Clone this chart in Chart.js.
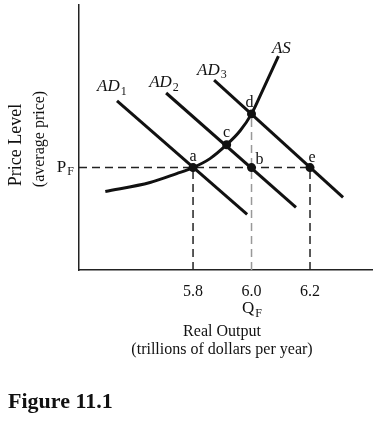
<!DOCTYPE html>
<html>
<head>
<meta charset="utf-8">
<script src="https://cdn.jsdelivr.net/npm/chart.js@4.4.1/dist/chart.umd.min.js"></script>
<style>
  html, body { margin: 0; padding: 0; background: #fff; }
  #wrap { width: 381px; height: 433px; position: relative; }
</style>
</head>
<body>
<div id="wrap"><canvas id="chart"></canvas></div>
<script>
// values (price level in arbitrary units, 0 at the x axis)
const xTicks = [5.8, 6.0, 6.2];
const xMin = 5.410;
const xMax = 6.412;
const PF = 103;
const QF = 6.0;

const asX = [5.50, 5.653, 5.744, 5.80, 5.858, 5.915, 5.961, 6.00, 6.040, 6.092];
const asY = [79, 88, 97, 103, 112, 126, 140, 157, 182, 215];

const ad1X = [5.540, 5.985];
const ad1Y = [170, 56];
const ad2X = [5.708, 6.152];
const ad2Y = [178, 63];
const ad3X = [5.872, 6.313];
const ad3Y = [191, 73];

const ptNames = ['a', 'b', 'c', 'd', 'e'];
const ptX = [5.8, 6.0, 5.915, 6.0, 6.2];
const ptY = [103, 103, 126, 157, 103];

const serif = '"Liberation Serif", "DejaVu Serif", serif';
const ink = '#111';

const toPts = (xs, ys) => xs.map((x, i) => ({ x: x, y: ys[i] }));

function subText(ctx, main, sub, x, y, size, italic, align) {
  const f1 = (italic ? 'italic ' : '') + size + 'px ' + serif;
  const f2 = Math.round(size * 0.68) + 'px ' + serif;
  ctx.font = f1;
  const w1 = ctx.measureText(main).width;
  ctx.font = f2;
  const w2 = ctx.measureText(sub).width;
  let left = x;
  if (align === 'center') left = x - (w1 + w2) / 2;
  if (align === 'right') left = x - (w1 + w2);
  ctx.textAlign = 'left';
  ctx.textBaseline = 'middle';
  ctx.font = f1;
  ctx.fillText(main, left, y);
  ctx.font = f2;
  ctx.fillText(sub, left + w1 + 1, y + size * 0.28);
}

const textPlugin = {
  id: 'figText',
  afterDraw(chart) {
    const ctx = chart.ctx;
    const xs = chart.scales.x;
    const ys = chart.scales.y;
    ctx.save();
    ctx.fillStyle = ink;

    // y axis title
    ctx.save();
    ctx.translate(16, 145);
    ctx.rotate(-Math.PI / 2);
    ctx.textAlign = 'center';
    ctx.textBaseline = 'middle';
    ctx.font = '18px ' + serif;
    ctx.fillText('Price Level', 0, 0);
    ctx.restore();
    ctx.save();
    ctx.translate(40, 139);
    ctx.rotate(-Math.PI / 2);
    ctx.textAlign = 'center';
    ctx.textBaseline = 'middle';
    ctx.font = '16px ' + serif;
    ctx.fillText('(average price)', 0, 0);
    ctx.restore();

    subText(ctx, 'P', 'F', 73, ys.getPixelForValue(PF), 17, false, 'right');
    subText(ctx, 'Q', 'F', xs.getPixelForValue(QF), 309, 17, false, 'center');

    ctx.textAlign = 'center';
    ctx.textBaseline = 'middle';
    ctx.font = '16px ' + serif;
    ctx.fillText('Real Output', 222, 332);
    ctx.fillText('(trillions of dollars per year)', 222, 350);

    // curve labels
    subText(ctx, 'AD', '1', xs.getPixelForValue(ad1X[0]) - 20, ys.getPixelForValue(ad1Y[0]) - 14, 17, true, 'left');
    subText(ctx, 'AD', '2', xs.getPixelForValue(ad2X[0]) - 17, ys.getPixelForValue(ad2Y[0]) - 10, 17, true, 'left');
    subText(ctx, 'AD', '3', xs.getPixelForValue(ad3X[0]) - 17, ys.getPixelForValue(ad3Y[0]) - 10, 17, true, 'left');
    ctx.font = 'italic 17px ' + serif;
    ctx.textAlign = 'center';
    ctx.fillText('AS', xs.getPixelForValue(asX[asX.length - 1]) + 3, ys.getPixelForValue(asY[asY.length - 1]) - 8);

    // point labels
    const offs = [[0, -11], [8, -8], [0, -12], [-2, -11], [2, -10]];
    ctx.font = '16px ' + serif;
    ptNames.forEach((n, i) => {
      ctx.fillText(n, xs.getPixelForValue(ptX[i]) + offs[i][0], ys.getPixelForValue(ptY[i]) + offs[i][1]);
    });

    ctx.textAlign = 'left';
    ctx.font = 'bold 22px ' + serif;
    ctx.fillText('Figure 11.1', 8, 402);
    ctx.restore();
  }
};

const dash = [8, 5];

new Chart(document.getElementById('chart'), {
  type: 'scatter',
  data: {
    datasets: [
      { data: toPts(ptX, ptY), pointRadius: 4.5, pointBackgroundColor: ink, pointBorderWidth: 0, showLine: false, order: 0 },
      { data: toPts(asX, asY), showLine: true, borderColor: ink, borderWidth: 3, pointRadius: 0, cubicInterpolationMode: 'monotone', order: 1 },
      { data: toPts(ad1X, ad1Y), showLine: true, borderColor: ink, borderWidth: 3, pointRadius: 0, order: 1 },
      { data: toPts(ad2X, ad2Y), showLine: true, borderColor: ink, borderWidth: 3, pointRadius: 0, order: 1 },
      { data: toPts(ad3X, ad3Y), showLine: true, borderColor: ink, borderWidth: 3, pointRadius: 0, order: 1 },
      { data: [{ x: xMin, y: PF }, { x: ptX[4], y: PF }], showLine: true, borderColor: '#222', borderWidth: 1.5, borderDash: dash, pointRadius: 0, order: 2 },
      { data: [{ x: ptX[0], y: 0 }, { x: ptX[0], y: PF }], showLine: true, borderColor: '#222', borderWidth: 1.5, borderDash: dash, pointRadius: 0, order: 2 },
      { data: [{ x: QF, y: 0 }, { x: QF, y: ptY[3] }], showLine: true, borderColor: '#999', borderWidth: 1.5, borderDash: dash, pointRadius: 0, order: 2 },
      { data: [{ x: ptX[4], y: 0 }, { x: ptX[4], y: PF }], showLine: true, borderColor: '#222', borderWidth: 1.5, borderDash: dash, pointRadius: 0, order: 2 }
    ]
  },
  options: {
    responsive: true,
    maintainAspectRatio: false,
    animation: false,
    layout: { padding: { top: 3, right: 9, left: 0, bottom: 0 } },
    plugins: { legend: { display: false }, tooltip: { enabled: false } },
    scales: {
      x: {
        type: 'linear',
        min: xMin,
        max: xMax,
        afterBuildTicks: (s) => { s.ticks = xTicks.map(v => ({ value: v })); },
        afterFit: (s) => { s.height = 163; },
        grid: { display: false, drawTicks: false },
        border: { display: true, color: '#222', width: 1.5 },
        ticks: { color: ink, padding: 12, font: { family: serif, size: 16 }, callback: (v) => Number(v).toFixed(1) }
      },
      y: {
        type: 'linear',
        min: 0,
        max: 267,
        afterFit: (s) => { s.width = 79; },
        grid: { display: false, drawTicks: false },
        border: { display: true, color: '#222', width: 1.5 },
        ticks: { display: false }
      }
    }
  },
  plugins: [textPlugin]
});
</script>
</body>
</html>
